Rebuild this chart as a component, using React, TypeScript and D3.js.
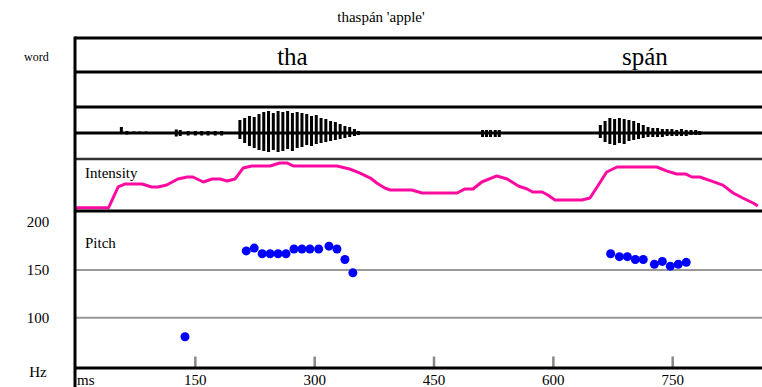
import React from "react";
import * as d3 from "d3";

const title = "thaspán 'apple'";
const words = ["tha", "spán"];
const wordCenters = [272, 715];

const timeTicks = [150, 300, 450, 600, 750];
const pitchTicks = [200, 150, 100];
const pitchGrid = [150, 100];

// waveform pulses: time (ms), upward and downward amplitude
const waveT = [57, 64, 73, 80, 88, 126, 131, 141, 150, 158, 166, 175, 183,
  206, 212, 218, 224, 230, 236, 242, 248, 254, 260, 266, 272, 278, 284, 290, 296, 302, 308, 314, 320, 326, 332, 338, 344, 350, 355,
  511, 516, 521, 527, 532, 596,
  659, 665, 671, 677, 683, 689, 695, 701, 707, 713, 719, 725, 731, 737, 743, 749, 755, 761, 767, 773, 779, 784];
const waveHi = [6, 2, 1.5, 1.5, 1.5, 3.5, 3, 2, 2, 2, 2, 2, 2,
  13, 15, 17, 16, 19, 21, 22, 20, 22, 21, 22, 20, 21, 20, 19, 17, 18, 15, 14, 12, 11, 9, 7, 6, 4, 2,
  3, 3, 3, 3, 3, 1,
  8, 12, 15, 14, 15, 14, 13, 12, 10, 8, 6, 5, 5, 4, 4, 4, 3, 4, 3, 3, 3, 2];
const waveLo = [1, 1.5, 1, 1, 1, 3.5, 3, 2.5, 2.5, 2.5, 2.5, 2.5, 2.5,
  6, 10, 13, 15, 17, 18, 19, 17, 19, 18, 16, 18, 15, 14, 12, 13, 11, 10, 9, 8, 7, 6, 5, 4, 3, 2,
  4, 4, 4, 4, 4, 1,
  5, 9, 11, 12, 10, 11, 8, 7, 6, 5, 4, 4, 4, 4, 3, 3, 3, 3, 3, 2, 2, 2];

// intensity contour: time (ms), dB
const intT = [0, 41, 53, 62, 77, 83, 95, 103, 114, 128, 140, 147, 160, 171, 181, 190, 200, 210, 221, 244, 256, 265, 273, 328, 344, 357, 370, 378, 388, 395, 422, 435, 479, 489, 499, 510, 529, 542, 556, 567, 574, 586, 593, 602, 636, 646, 655, 667, 680, 730, 743, 755, 766, 774, 784, 799, 813, 826, 838, 851, 857];
const intDb = [38.2, 38.2, 58.1, 61.0, 61.0, 61.0, 58.1, 58.1, 60.0, 65.8, 67.7, 67.7, 62.9, 65.8, 65.8, 63.8, 65.8, 76.3, 78.3, 78.3, 81.2, 81.2, 78.3, 78.3, 75.4, 71.5, 66.7, 61.9, 57.1, 55.2, 55.2, 52.3, 52.3, 56.2, 56.2, 62.9, 68.7, 65.8, 59.0, 56.2, 53.3, 53.3, 50.4, 45.6, 45.6, 47.5, 58.1, 72.5, 77.3, 77.3, 73.4, 70.6, 70.6, 67.7, 67.7, 63.8, 59.9, 52.3, 47.5, 42.7, 39.8];

// pitch points: time (ms), Hz
const pitchT = [137, 214, 224, 234, 244, 254, 264, 274, 284, 294, 305, 318, 328, 338, 348,
  672, 683, 693, 703, 713, 727, 737, 747, 757, 767];
const pitchHz = [80, 170, 173, 167, 167, 167, 167, 172, 172, 172, 172, 175, 172, 161, 147,
  167, 164, 164, 161, 161, 156, 159, 154, 156, 158];

const W = 762;
const H = 387;
const LEFT = 75;
const Y_TOP = 38;
const Y_WORD = 72;
const Y_TIER2 = 107;
const Y_WAVE = 159;
const Y_INT = 211;
const Y_AXIS = 368;

const FONT = "Liberation Serif, Times New Roman, Times, DejaVu Serif, serif";

export default function App() {
  const x = d3.scaleLinear().domain([0, 750]).range([76, 672.7]);
  const yP = d3.scaleLinear().domain([100, 200]).range([317.7, 222.3]);
  const yI = d3.scaleLinear().domain([35, 85]).range([Y_INT, Y_WAVE]);
  const yW = d3.scaleLinear().domain([-26, 26]).range([Y_WAVE, Y_TIER2]);

  const intLine = d3
    .line<number>()
    .x((_, i) => x(intT[i]))
    .y((d) => yI(d))
    .curve(d3.curveLinear);

  const txt = { fontFamily: FONT, fill: "#000" } as React.CSSProperties;

  return (
    <svg
      width={W}
      height={H}
      style={{ position: "absolute", left: 0, top: 0, background: "#fff", fontFamily: FONT }}
    >
      <rect x={0} y={0} width={W} height={H} fill="#fff" />
      <text x={W / 2} y={22} fontSize={15} textAnchor="middle" style={txt}>
        {title}
      </text>
      <text x={24} y={61} fontSize={12} style={txt}>
        word
      </text>

      {/* words */}
      {words.map((w, i) => (
        <text key={w} x={x(wordCenters[i])} y={65} fontSize={25} textAnchor="middle" style={txt}>
          {w}
        </text>
      ))}

      {/* pitch grid */}
      {pitchGrid.map((v) => (
        <line key={v} x1={LEFT} x2={W} y1={yP(v)} y2={yP(v)} stroke="#999" strokeWidth={2} />
      ))}

      {/* waveform */}
      <line x1={LEFT} x2={W} y1={yW(0)} y2={yW(0)} stroke="#000" strokeWidth={3} />
      {waveT.map((t, i) => (
        <rect
          key={i}
          x={x(t) - 1.5}
          width={3}
          y={yW(waveHi[i])}
          height={yW(-waveLo[i]) - yW(waveHi[i])}
          fill="#000"
        />
      ))}

      {/* intensity */}
      <path d={intLine(intDb) || ""} fill="none" stroke="#ff0aa0" strokeWidth={3} strokeLinejoin="round" />
      <text x={85} y={178} fontSize={15} style={txt}>
        Intensity
      </text>

      {/* pitch */}
      <text x={85} y={248} fontSize={15} style={txt}>
        Pitch
      </text>
      {pitchT.map((t, i) => (
        <circle key={i} cx={x(t)} cy={yP(pitchHz[i])} r={4.5} fill="#0000ff" />
      ))}
      {pitchTicks.map((v) => (
        <text key={v} x={38} y={yP(v) + 5} fontSize={15} textAnchor="middle" style={txt}>
          {v}
        </text>
      ))}
      <text x={38} y={377} fontSize={15} textAnchor="middle" style={txt}>
        Hz
      </text>

      {/* time axis */}
      {timeTicks.map((t) => (
        <g key={t}>
          <line x1={x(t)} x2={x(t)} y1={356.5} y2={Y_AXIS} stroke="#888" strokeWidth={2.5} />
          <text x={x(t)} y={384.5} fontSize={15} textAnchor="middle" style={txt}>
            {t}
          </text>
        </g>
      ))}
      <text x={77} y={384.5} fontSize={15} style={txt}>
        ms
      </text>

      {/* frame lines */}
      {[Y_TOP, Y_WORD, Y_TIER2, Y_INT, Y_AXIS].map((y) => (
        <line key={y} x1={LEFT} x2={W} y1={y} y2={y} stroke="#000" strokeWidth={3} />
      ))}
      <line x1={LEFT} x2={W} y1={Y_WAVE} y2={Y_WAVE} stroke="#333" strokeWidth={2.5} />
      <line x1={LEFT} x2={LEFT} y1={Y_TOP - 1.5} y2={H} stroke="#000" strokeWidth={3} />
    </svg>
  );
}
